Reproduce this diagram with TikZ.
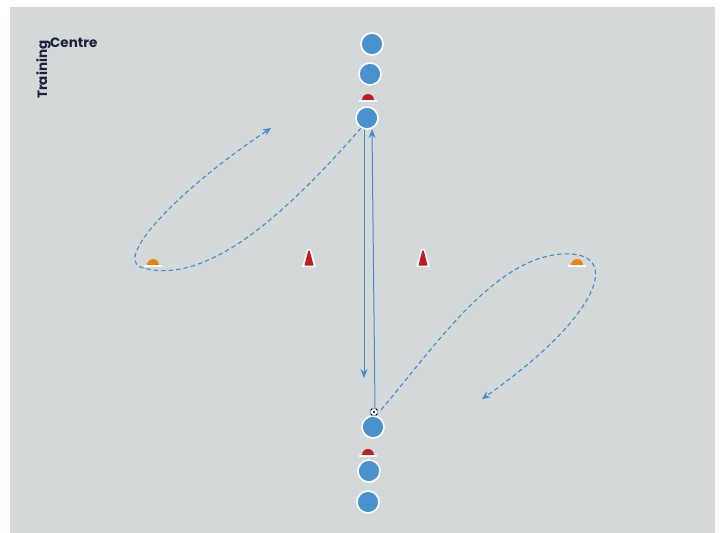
\documentclass[tikz,border=0pt]{standalone}
\usepackage{fontspec}
\setmainfont{Poppins}
\usetikzlibrary{arrows.meta}
\definecolor{field}{RGB}{211,216,216}
\definecolor{pblue}{RGB}{74,146,206}
\definecolor{lblue}{RGB}{70,140,205}
\definecolor{conered}{RGB}{190,30,35}
\definecolor{coneorange}{RGB}{236,130,20}
\definecolor{navy}{RGB}{30,35,60}
\tikzset{
  x=1pt,y=-1pt,
  player/.style={circle,fill=pblue,draw=white,line width=1.6pt,minimum size=22pt,inner sep=0pt},
  run/.style={lblue,line width=1.1pt,dash pattern=on 4.5pt off 3pt,-{Stealth[length=8pt,width=7pt]}},
  pass/.style={lblue,line width=1pt,-{Stealth[length=9pt,width=7pt]}},
  logo/.style={font=\bfseries\fontsize{13.5}{15}\selectfont,text=navy,inner sep=0pt}
}
\newcommand{\domecone}[3]{%
  \fill[#3] (#1-6,#2) arc[start angle=180,end angle=0,radius=6pt] -- cycle;
  \draw[white,line width=1.5pt,line cap=round] (#1-8.5,#2+1.2) -- (#1+8.5,#2+1.2);}
\newcommand{\tricone}[2]{%
  \fill[white] (#1-7,#2+9) -- (#1-1.8,#2-9) -- (#1+1.8,#2-9) -- (#1+7,#2+9) -- cycle;
  \fill[conered] (#1-4.5,#2+7.5) -- (#1-0.8,#2-7.5) -- (#1+0.8,#2-7.5) -- (#1+4.5,#2+7.5) -- cycle;}
\begin{document}
\begin{tikzpicture}
\useasboundingbox (0,0) rectangle (721,533);
\fill[white] (0,0) rectangle (721,533);
\fill[field] (10,7) rectangle (715,533);
% logo
\node[logo,rotate=90,anchor=base west] (tr) at (47,99) {Training};
\node[logo,anchor=base west] (ce) at (50,47) {Centre};
% cones
\domecone{153}{265}{coneorange}
\domecone{577}{265}{coneorange}
\domecone{368}{100}{conered}
\domecone{368}{455}{conered}
\tricone{309}{258}
\tricone{423}{258}
% players
\node[player] (t1) at (372,44) {};
\node[player] (t2) at (370,74) {};
\node[player] (t3) at (367,118) {};
\node[player] (b1) at (373,427) {};
\node[player] (b2) at (369,471) {};
\node[player] (b3) at (368,502) {};
% ball
\node[circle,fill=white,draw=black!70,line width=0.4pt,minimum size=8pt,inner sep=0pt] (ball) at (374,412) {};
\fill[black] (374,412) circle[radius=1.2pt];
\fill[black] (371.5,409.5) circle[radius=0.8pt] (376.5,409.5) circle[radius=0.8pt] (371.5,414.5) circle[radius=0.8pt] (376.5,414.5) circle[radius=0.8pt];
% passes
\coordinate (p1) at (364,378);
\coordinate (p2) at (372,129);
\draw[pass] (364,130) -- (p1);
\draw[pass] (375,408) -- (p2);
% runs
\coordinate (r1) at (271,128);
\coordinate (r2) at (482,399);
\draw[run] (361,128) .. controls (285,215) and (205,288) .. (140,267) .. controls (115,255) and (185,185) .. (r1);
\draw[run] (381,410) .. controls (440,340) and (500,250) .. (572,254) .. controls (622,258) and (592,322) .. (r2);
\end{tikzpicture}
\end{document}
